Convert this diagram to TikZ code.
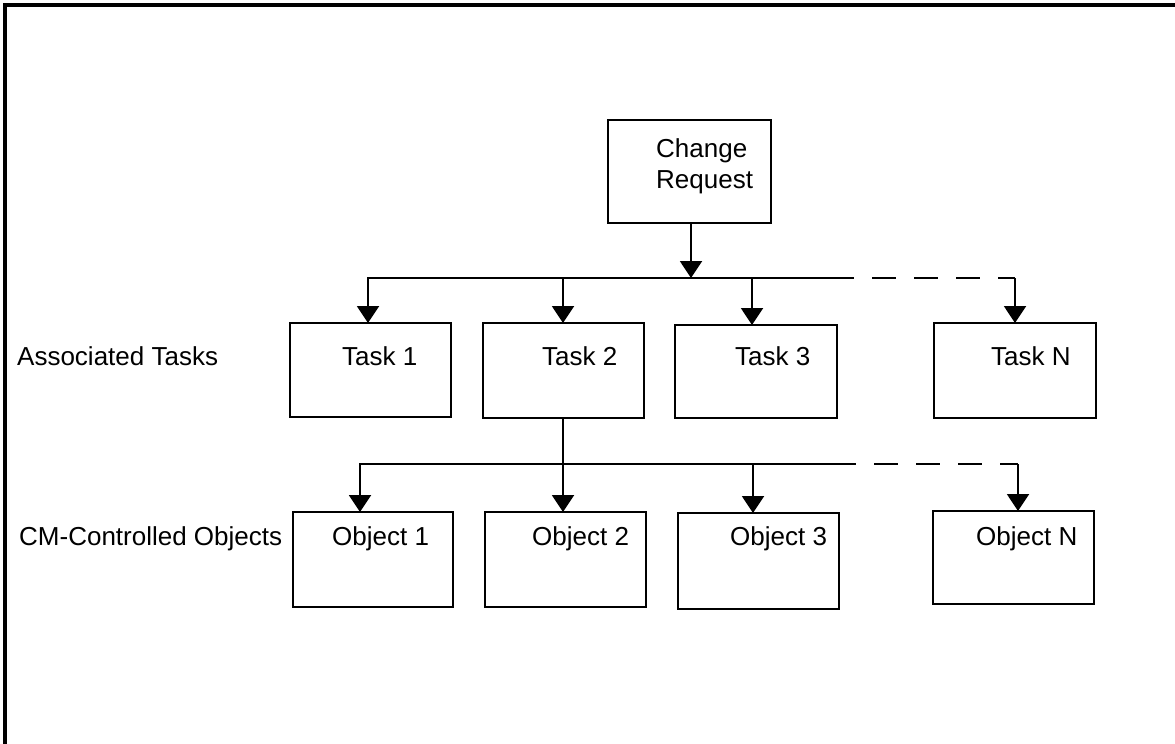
\documentclass[tikz,border=0pt]{standalone}
\usepackage{fontspec}
\setmainfont{Liberation Sans}
\usetikzlibrary{arrows.meta}
\begin{document}
\begin{tikzpicture}[x=1pt,y=-1pt,
  box/.style={draw=black,line width=2pt,inner sep=0pt,outer sep=0pt,rectangle},
  lbl/.style={font=\fontsize{26}{31}\selectfont,inner sep=0pt,anchor=base west},
  conn/.style={line width=2pt},
  arr/.style={conn,-{Triangle[width=22pt,length=17pt]}},
  dashes/.style={conn,dash pattern=on 24pt off 18pt,dash phase=24pt}]
\useasboundingbox (0,0) rectangle (1175,744);
\draw[line width=4pt] (5,744) -- (5,5) -- (1175,5);

% boxes
\node[box,minimum width=163pt,minimum height=103pt] (cr) at (689.5,171.5) {};
\node[box,minimum width=161pt,minimum height=94pt] (t1) at (370.5,370) {};
\node[box,minimum width=161pt,minimum height=95pt] (t2) at (563.5,370.5) {};
\node[box,minimum width=162pt,minimum height=93pt] (t3) at (756,371.5) {};
\node[box,minimum width=162pt,minimum height=95pt] (tN) at (1015,370.5) {};
\node[box,minimum width=160pt,minimum height=95pt] (o1) at (373,559.5) {};
\node[box,minimum width=161pt,minimum height=95pt] (o2) at (565.5,559.5) {};
\node[box,minimum width=161pt,minimum height=96pt] (o3) at (758.5,561) {};
\node[box,minimum width=161pt,minimum height=93pt] (oN) at (1013.5,557.5) {};

% texts
\node[lbl] (crA) at (656,157) {Change};
\node[lbl] (crB) at (656,188) {Request};
\node[lbl] (lt1) at (342,365) {Task 1};
\node[lbl] (lt2) at (542,365) {Task 2};
\node[lbl] (lt3) at (735,365) {Task 3};
\node[lbl] (ltN) at (991,365) {Task N};
\node[lbl] (lo1) at (332,545) {Object 1};
\node[lbl] (lo2) at (532,545) {Object 2};
\node[lbl] (lo3) at (730,545) {Object 3};
\node[lbl] (loN) at (976,545) {Object N};
\node[lbl] (rowA) at (17,365) {Associated Tasks};
\node[lbl] (rowB) at (19,545) {CM-Controlled Objects};

% arrow ends on the boxes
\coordinate (e1) at ([xshift=-2.5pt]t1.north);
\coordinate (e2) at ([xshift=-0.5pt]t2.north);
\coordinate (e3) at ([xshift=-4pt]t3.north);
\coordinate (eN) at (tN.north);
\coordinate (f1) at ([xshift=-13pt]o1.north);
\coordinate (f2) at ([xshift=-2.5pt]o2.north);
\coordinate (f3) at ([xshift=-5.5pt]o3.north);
\coordinate (fN) at ([xshift=4.5pt]oN.north);

% first level connectors
\coordinate (j1) at (691,278);
\coordinate (d1) at (854,278);
\draw[arr] (cr.south -| j1) -- (j1);
\draw[arr] (j1) -| (e1);
\draw[arr] (j1 -| e2) -- (e2);
\draw[conn] (j1) -- (d1);
\draw[arr] (d1 -| e3) -- (e3);
\draw[dashes] (d1) -- (d1 -| eN);
\draw[arr] (d1 -| eN) -- (eN);

% second level connectors
\coordinate (j2) at (563,464);
\coordinate (d2) at (856,464);
\draw[arr] (t2.south -| f2) -- (f2);
\draw[arr] (j2) -| (f1);
\draw[conn] (j2) -- (d2);
\draw[arr] (d2 -| f3) -- (f3);
\draw[dashes] (d2) -- (d2 -| fN);
\draw[arr] (d2 -| fN) -- (fN);
\end{tikzpicture}
\end{document}
